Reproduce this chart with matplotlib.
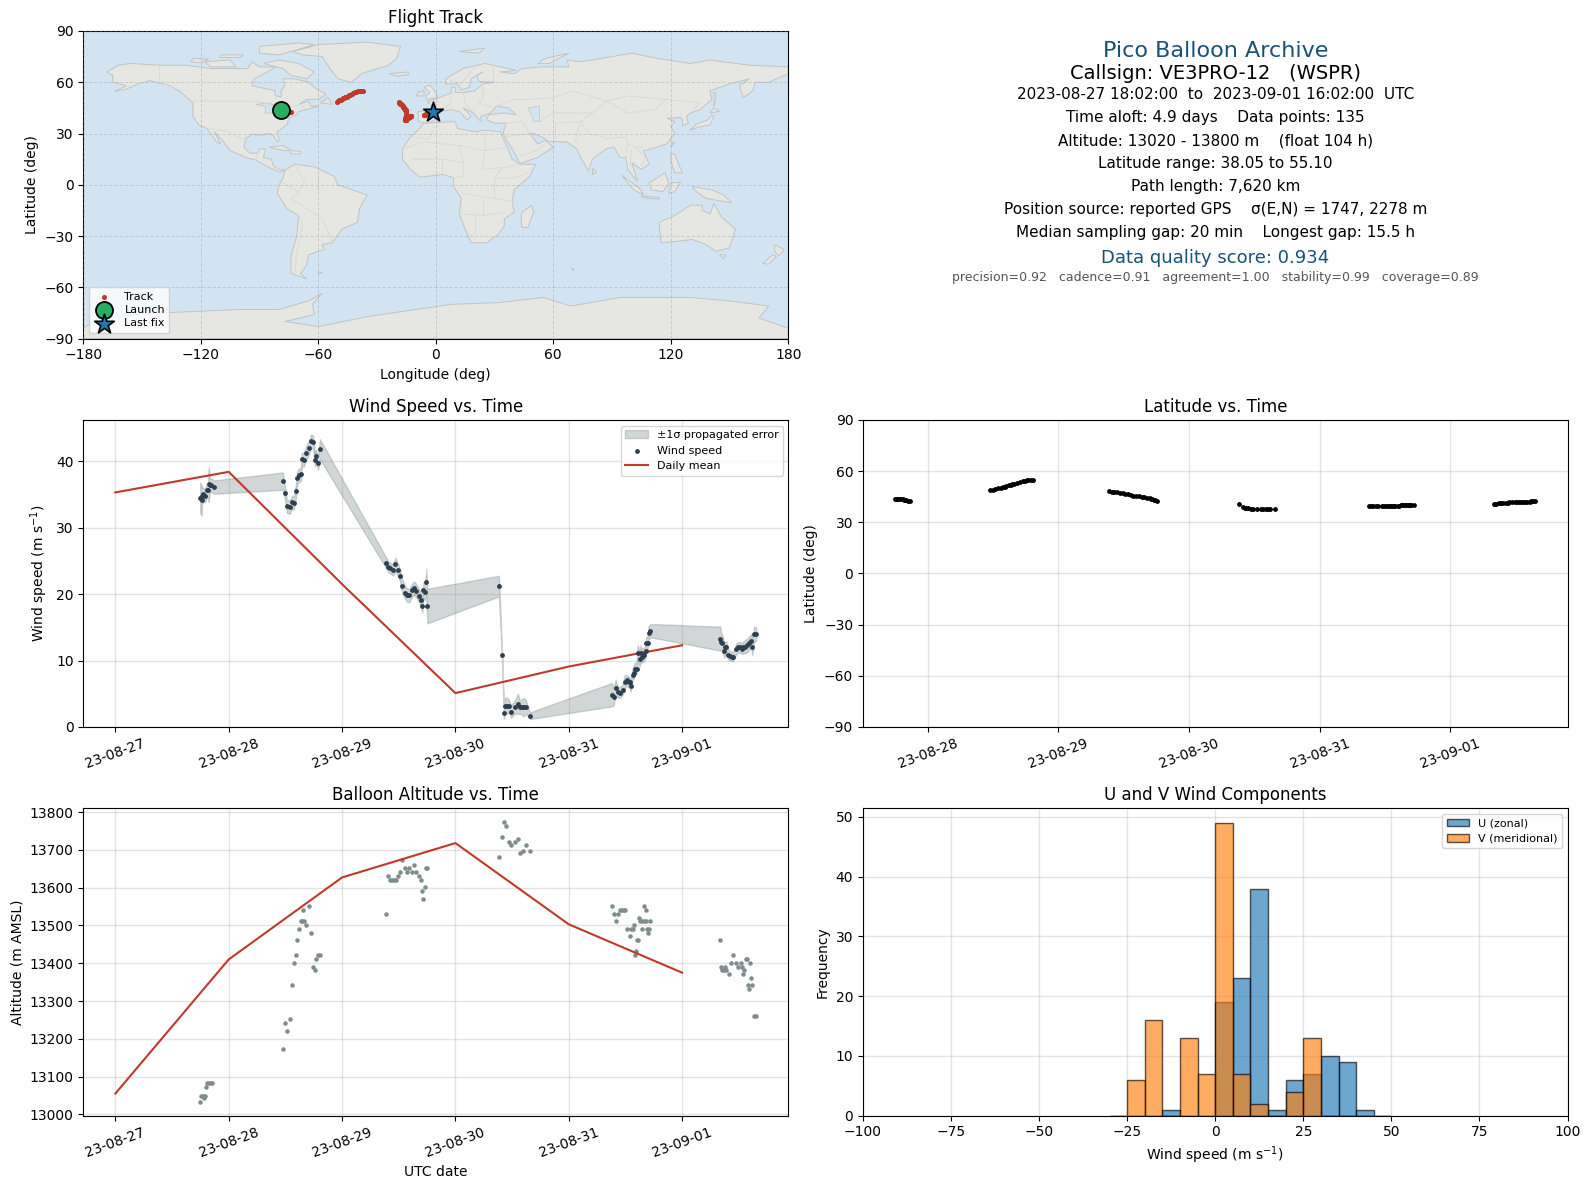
import matplotlib
matplotlib.use('Agg')
import matplotlib.pyplot as plt
import matplotlib.dates as mdates
import numpy as np
import pandas as pd

START = pd.Timestamp('2023-08-27')

# days since 08-27 00:00, one list per flight day
days_a = [.749, .761, .764, .776, .791, .808, .817, .823, .835, .847, .867]
days_b = [1.478, 1.496, 1.513, 1.540, 1.558, 1.575, 1.593, 1.602, 1.619, 1.637, 1.646, 1.664, 1.681, 1.708, 1.726,
          1.743, 1.761, 1.770, 1.788, 1.805]
days_c = [2.389, 2.407, 2.425, 2.451, 2.469, 2.496, 2.513, 2.531, 2.558, 2.575, 2.593, 2.619, 2.637, 2.655, 2.681,
          2.699, 2.708, 2.717, 2.735, 2.743, 2.752]
days_d = [3.384, 3.411, 3.428, 3.437, 3.455, 3.472, 3.490, 3.525, 3.551, 3.569, 3.587, 3.604, 3.622, 3.657]
days_e = [4.378, 4.396, 4.413, 4.431, 4.449, 4.475, 4.493, 4.510, 4.528, 4.537, 4.545, 4.563, 4.572, 4.581, 4.598,
          4.607, 4.625, 4.633, 4.642, 4.651, 4.660, 4.677, 4.683, 4.695, 4.704, 4.721]
days_f = [5.337, 5.346, 5.355, 5.372, 5.381, 5.390, 5.408, 5.425, 5.443, 5.452, 5.478, 5.496, 5.513, 5.531, 5.540,
          5.557, 5.575, 5.592, 5.610, 5.619, 5.636, 5.654]

wind_a = [34.5, 34.1, 34.8, 35.0, 34.8, 35.6, 35.6, 36.5, 36.4, 36.4, 36.1]
wind_b = [37.0, 35.2, 33.2, 33.1, 33.8, 33.7, 35.5, 37.4, 37.9, 38.0, 40.3, 40.2, 41.2, 42.0, 43.0, 42.9, 40.2, 40.8,
          39.7, 41.8]
wind_c = [24.7, 24.1, 23.9, 23.6, 24.5, 23.6, 22.7, 21.2, 20.2, 19.8, 19.8, 20.6, 20.9, 20.5, 19.7, 19.1, 18.2, 20.6,
          20.3, 21.8, 18.2]
wind_d = [21.2, 10.9, 2.1, 3.2, 3.2, 3.2, 2.3, 3.0, 3.5, 3.0, 3.0, 3.0, 3.0, 1.7]
wind_e = [4.85, 4.55, 5.9, 5.3, 5.15, 5.6, 6.8, 7.0, 6.8, 6.7, 6.1, 7.9, 8.2, 8.8, 8.8, 11.1, 10.3, 11.1, 10.6, 10.9,
          10.8, 11.4, 12.7, 12.6, 14.2, 14.5]
wind_f = [13.3, 12.8, 12.7, 11.5, 12.0, 12.1, 10.9, 10.7, 10.6, 10.6, 11.8, 12.0, 12.0, 11.8, 12.0, 12.1, 12.3, 12.6,
          13.0, 12.0, 14.0, 14.0]

sigma_a = [2.3, 2.3, 1.3, 1.0, 1.0, 1.0, 1.0, 2.6, 1.0, 1.0, 1.0]
sigma_b = [1.3, .9, 1.0, 1.0, 1.0, 1.0, 1.0, 1.0, 1.0, 1.0, 1.0, 1.0, 1.0, 1.0, 1.0, 1.0, 1.0, 1.0, 1.0, 1.5]
sigma_c = [.8, .8, .8, .8, 1.0, .9, .9, 1.0, 1.0, 1.0, 1.0, 1.0, 1.0, 1.0, 1.0, 1.0, 1.0, 1.2, 1.2, 2.0, 2.6]
sigma_d = [1.55, .3, .9, 1.2, 1.2, .9, .9, 1.0, 1.5, 1.0, 1.2, 1.4, 1.0, .5]
sigma_e = [1.75, 1.3, 1.2, .8, .8, .8, 1.0, .8, .8, .8, .8, .9, .9, .9, .8, 1.2, 1.2, 1.2, 1.0, 1.0, 1.0, 1.0, .9, .9,
           1.0, 1.0]
sigma_f = [1.8, 1.2, 1.2, 1.1, .9, .8, .8, .7, .7, .7, .8, .8, .8, .8, .9, 1.0, 1.0, 1.0, 1.0, 1.2, 1.1, 1.0]

lat_a = [43.6, 43.6, 43.7, 43.6, 43.5, 43.4, 43.3, 43.0, 42.9, 42.8, 42.8]
lat_b = [48.7, 49.2, 49.5, 49.9, 50.4, 50.7, 50.9, 51.1, 51.6, 52.1, 52.4, 52.7, 53.0, 53.6, 54.0, 54.4, 54.7, 54.8,
         55.0, 55.1]
lat_c = [48.2, 48.0, 47.8, 47.5, 47.3, 47.0, 46.7, 46.4, 46.0, 45.7, 45.5, 45.2, 45.0, 44.7, 44.4, 44.1, 43.9, 43.6,
         43.3, 43.0, 42.7]
lat_d = [40.6, 38.9, 38.4, 38.2, 38.2, 38.1, 38.1, 38.1, 38.1, 38.1, 38.1, 38.1, 38.1, 38.05]
lat_e = [39.3, 39.3, 39.3, 39.3, 39.3, 39.3, 39.3, 39.3, 39.3, 39.3, 39.4, 39.5, 39.5, 39.6, 39.7, 39.8, 39.9, 40.0,
         40.0, 40.0, 40.0, 40.1, 40.1, 40.0, 40.0, 40.0]
lat_f = [41.0, 41.0, 41.0, 41.1, 41.2, 41.2, 41.5, 41.6, 41.6, 41.7, 41.7, 41.7, 41.7, 41.7, 41.8, 41.9, 42.0, 42.1,
         42.2, 42.3, 42.4, 42.4]

lon_a = [-79.0, -78.5, -78.0, -77.5, -77.0, -76.5, -76.0, -75.5, -75.0, -74.5, -74.0]
lon_b = [-50.4, -49.8, -49.2, -48.6, -48.0, -47.4, -46.8, -46.2, -45.6, -45.0, -44.4, -43.8, -43.0, -42.2, -41.4,
         -40.6, -39.8, -39.0, -38.2, -37.3]
lon_c = [-19.0, -18.8, -18.5, -18.2, -18.0, -17.7, -17.4, -17.2, -17.0, -16.8, -16.6, -16.4, -16.2, -16.0, -15.8,
         -15.6, -15.5, -15.4, -15.3, -15.2, -15.1]
lon_d = [-15.0, -15.6, -15.8, -15.8, -15.7, -15.6, -15.5, -15.4, -15.3, -15.2, -15.2, -15.1, -15.0, -15.0]
lon_e = [-15.0, -14.9, -14.8, -14.7, -14.6, -14.5, -14.4, -14.3, -14.2, -14.1, -14.0, -13.9, -13.8, -13.7, -13.6,
         -13.5, -13.4, -13.3, -13.2, -13.1, -13.0, -12.9, -12.8, -12.7, -12.6, -12.5]
lon_f = [-6.0, -5.8, -5.6, -5.4, -5.2, -5.0, -4.8, -4.6, -4.4, -4.2, -4.0, -3.8, -3.6, -3.4, -3.2, -3.0, -2.7, -2.5,
         -2.2, -2.0, -1.7, -1.4]

alt_days_a = [.749, .758, .776, .794, .785, .803, .812, .829, .847, .856]
alt_a = [13033, 13049, 13049, 13049, 13042, 13072, 13082, 13082, 13082, 13082]
alt_days_b = [1.478, 1.496, 1.513, 1.540, 1.558, 1.575, 1.593, 1.602, 1.619, 1.637, 1.646, 1.655, 1.664, 1.681, 1.708,
              1.726, 1.743, 1.761, 1.770, 1.788, 1.805]
alt_b = [13173, 13242, 13220, 13252, 13342, 13401, 13422, 13462, 13491, 13512, 13512, 13542, 13512, 13502, 13552,
         13481, 13390, 13382, 13411, 13422, 13422]
alt_days_c = [2.389, 2.407, 2.425, 2.442, 2.460, 2.472, 2.496, 2.513, 2.531, 2.558, 2.575, 2.593, 2.619, 2.637, 2.655,
              2.681, 2.699, 2.708, 2.717, 2.735, 2.743, 2.752]
alt_c = [13531, 13632, 13621, 13621, 13621, 13621, 13632, 13642, 13672, 13653, 13642, 13653, 13642, 13661, 13642,
         13632, 13621, 13592, 13571, 13603, 13653, 13653]
alt_days_d = [3.384, 3.411, 3.428, 3.446, 3.472, 3.490, 3.525, 3.551, 3.569, 3.595, 3.622, 3.657]
alt_d = [13682, 13733, 13773, 13762, 13722, 13712, 13722, 13730, 13693, 13696, 13712, 13696]
alt_days_e = [4.378, 4.396, 4.413, 4.431, 4.449, 4.466, 4.484, 4.493, 4.510, 4.537, 4.545, 4.563, 4.572, 4.581, 4.590,
              4.598, 4.607, 4.616, 4.625, 4.642, 4.644, 4.660, 4.677, 4.668, 4.677, 4.686, 4.704, 4.695, 4.721]
alt_e = [13552, 13531, 13512, 13531, 13542, 13542, 13542, 13542, 13491, 13473, 13491, 13491, 13502, 13422, 13433,
         13462, 13462, 13520, 13512, 13491, 13512, 13512, 13512, 13552, 13542, 13491, 13491, 13481, 13512]
alt_days_f = [5.337, 5.346, 5.355, 5.372, 5.381, 5.390, 5.416, 5.434, 5.452, 5.478, 5.496, 5.522, 5.531, 5.540, 5.548,
              5.566, 5.575, 5.601, 5.610, 5.584, 5.619, 5.592, 5.636, 5.654]
alt_f = [13462, 13390, 13382, 13382, 13390, 13382, 13372, 13401, 13422, 13401, 13390, 13401, 13390, 13372, 13382,
         13411, 13411, 13401, 13361, 13342, 13342, 13332, 13260, 13260]

mean_days = [0, 1, 2, 3, 4, 5]
mean_wind = [35.3, 38.4, 21.5, 5.1, 9.1, 12.3]
mean_alt = [13055, 13410, 13627, 13718, 13503, 13375]

bin_edges = [-30, -25, -20, -15, -10, -5, 0, 5, 10, 15, 20, 25, 30, 35, 40, 45, 50]
u_counts = [0, 0, 0, 1, 0, 0, 19, 23, 38, 1, 6, 7, 10, 9, 1, 0]
v_counts = [0, 6, 16, 0, 13, 7, 49, 7, 2, 0, 4, 13, 0, 0, 0, 0]

lon_ticks = [-180, -120, -60, 0, 60, 120, 180]
lat_ticks = [-90, -60, -30, 0, 30, 60, 90]

# rough outlines for the base map, (lon, lat)
north_america = [(-168,66),(-162,70),(-156,71),(-141,70),(-128,70),(-115,68),(-108,68),(-96,68),(-94,72),(-90,69),
    (-82,69),(-86,66),(-93,62),(-94,58),(-88,56.5),(-82,55),(-82,52),(-79,51.5),(-79,55),(-77,58),(-78,62),(-72,62),
    (-65,60),(-62,57),(-56,53),(-60,50),(-66,50),(-70,47),(-65,49),(-64,46),(-60,46),(-66,44),(-70,43),(-71,41),
    (-75,39),(-76,35),(-81,31),(-80,26),(-81,25),(-83,29),(-85,30),(-90,29),(-94,29.5),(-97,27),(-98,22),(-95,18.5),
    (-91,18.5),(-90,21),(-87,21),(-88,16),(-84,15),(-83,11),(-80,9),(-77,8.5),(-80,7.5),(-85,10),(-92,14.5),(-97,16),
    (-105,20),(-109,26),(-113,31),(-110,24),(-112,25),(-115,30),(-117,33),(-121,35),(-124,40),(-124,48),(-130,54),
    (-136,58),(-146,61),(-152,59),(-158,56),(-164,54.5),(-158,58),(-165,60),(-165,64)]
south_america = [(-77,8.5),(-72,12),(-62,10.5),(-52,5),(-50,0),(-44,-2.5),(-35,-6),(-39,-14),(-40,-22),(-48,-26),
    (-53,-34),(-58,-35),(-57,-38),(-65,-41),(-66,-47),(-69,-52),(-66,-55),(-74,-52),(-74,-42),(-71,-30),(-70,-18),
    (-76,-14),(-81,-5),(-80,0),(-78,4)]
africa = [(-17,15),(-17,21),(-13,28),(-9,32),(-6,36),(10,37),(11,33),(20,31),(25,32),(33,31),(34,28),(37,21),(39,15),
    (43,12),(51,12),(48,5),(40,-3),(39,-10),(40,-16),(35,-20),(35,-24),(32,-29),(26,-34),(18,-34),(15,-26),(12,-17),
    (13,-8),(9,-1),(9,4),(4,6),(-4,5),(-8,4.5),(-13,9)]
eurasia = [(-9,37),(-9,43),(-2,43.5),(-1,46),(-4.5,48.5),(2,51),(8,54),(8,57),(10,57),(10,54),(14,54),(20,55),(24,59),
    (30,60),(22,60.5),(21,64),(24,66),(18,62),(17,57),(13,55.5),(11,59),(5,59),(5,62),(14,68),(25,71),(41,67),(33,66),
    (40,65),(44,68),(54,69),(68,69),(67,73),(73,72),(80,73),(100,77),(113,74),(130,71),(140,73),(160,70),(180,69),
    (180,65),(170,60),(163,60),(162,55),(157,51),(155,58),(160,62),(150,59),(140,55),(141,50),(135,44),(130,42),
    (128,40),(129,36),(126,34.5),(126,38),(125,39.5),(121,39),(118,39),(122,37),(120,34),(122,30),(118,24),(110,21),
    (106,20),(109,12),(105,9),(100,13),(103,2),(100,6),(98,9),(97,16),(94,16),(91,22),(87,21),(80,15),(78,8),(73,18),
    (72,21),(67,25),(57,25.5),(56,27),(50,30),(48,30),(52,24),(56,26),(60,22),(52,16),(43,12.5),(39,21),(35,28),
    (34.5,31),(36,36),(30,36),(26,38),(27,41),(35,42),(41,41),(37,45),(31,46),(28,42),(23,40),(23,37),(19,42),(14,45),
    (18,40),(16,38),(12,43),(8,44),(3,43),(0,39),(-2,37),(-5,36)]
australia = [(114,-22),(122,-18),(130,-12),(136,-12),(136,-15),(140,-17),(142,-11),(146,-19),(153,-26),(150,-37),
    (143,-39),(138,-35),(131,-32),(124,-33),(115,-34)]
antarctica = [(-180,-84),(-172,-78),(-140,-75),(-100,-73),(-80,-73),(-65,-68),(-58,-63.5),(-63,-70),(-62,-76),(-77,-80),
    (-60,-83),(-34,-77),(8,-70),(32,-69),(55,-66),(69,-71),(94,-66),(130,-66),(150,-68),(170,-71),(165,-78),(180,-84),
    (180,-90),(-180,-90)]
islands = [
    [(-73,78),(-60,82),(-35,83.5),(-18,81),(-20,74),(-24,70),(-38,65),(-43,60),(-50,62),(-54,68),(-58,75),(-68,76)],
    [(-80,73),(-70,71),(-62,66),(-66,62),(-74,64),(-78,68),(-88,71)],
    [(-90,77),(-80,76),(-62,82),(-70,83),(-90,81)],
    [(-118,72),(-105,73),(-102,69),(-115,69)],
    [(-124,74),(-116,73.5),(-120,71.5),(-125,72)],
    [(-110,76),(-98,76),(-100,74.5),(-110,74.5)],
    [(-59,48),(-53,47),(-55,51)],
    [(-24,65),(-14,66),(-14,64.5),(-20,63.5)],
    [(-5,50),(1,51),(0,54),(-3,58.5),(-6,57),(-3,54),(-5,52)],
    [(-10,52),(-6,52),(-6,55),(-9,54)],
    [(-85,22),(-78,23),(-74,20),(-78,20)],
    [(-74,20),(-69,19.5),(-69,18),(-74,18)],
    [(12,78),(25,80),(22,77)],
    [(52,71),(56,74),(68,77),(58,71)],
    [(44,-16),(49,-12),(50,-16),(47,-25),(44,-25),(43.5,-20)],
    [(130,32),(135,34),(140,35),(142,40),(141,41),(139,38),(133,35.5)],
    [(140,42),(145,43),(142,45)],
    [(142,46),(143,50),(143,54),(142,54)],
    [(120,22),(122,25),(121,25)],
    [(80,6),(82,7.5),(80,9.5)],
    [(120,18),(122,18),(124,12),(126,7),(122,7),(120,14)],
    [(95,5.5),(104,-2),(106,-6),(101,-3)],
    [(105,-6.5),(114,-7.5),(114,-8.5),(106,-7.5)],
    [(109,1),(117,7),(119,1),(116,-4),(110,-3)],
    [(119,-5),(120,1),(125,1.5),(122,-4)],
    [(131,-1),(141,-3),(147,-6),(151,-10.5),(143,-9),(138,-8),(133,-4)],
    [(145,-41),(148,-41),(147,-43.5)],
    [(173,-35),(178,-38),(175,-41.5),(173,-39)],
    [(172,-41),(174,-42),(170,-46.5),(167,-46)],
    [(-60,-51),(-58,-51.5),(-60,-52.2)],
    [(69,-49),(70,-49),(70,-50)],
]
seas = [[(47,45),(53,46),(53,37),(50,37),(49,41)],
    [(-92,47),(-85,48),(-80,45),(-83,42),(-87,42),(-87,46)]]
borders = [
    [(-141,70),(-141,60),(-130,55)], [(-124,49),(-95,49),(-88,48),(-83,46),(-79,43),(-75,45),(-69,47),(-67,45)],
    [(-117,33),(-107,31.5),(-97,26)], [(-92,14.5),(-91,18)], [(-72,12),(-67,1),(-70,-4),(-74,-8),(-70,-11),(-58,-20),
    (-55,-27),(-53,-34)], [(-70,-18),(-68,-23),(-71,-40),(-72,-52)], [(-60,5),(-60,-5)], [(-78,1),(-70,-4)],
    [(-13,28),(-4,27),(-1,32)], [(-17,21),(-6,25),(12,23),(25,20),(37,22)], [(25,32),(25,20),(24,9),(34,10),(43,12)],
    [(12,23),(14,13),(14,5),(9,4)], [(-12,15),(3,15),(14,13)], [(3,15),(3,7)], [(13,-5),(30,-8),(40,-10)],
    [(12,-17),(25,-18),(35,-16)], [(20,-18),(20,-29),(17,-29)], [(30,-8),(30,4),(34,10)], [(30,4),(41,4),(48,8)],
    [(24,-8),(24,-18)], [(2,43),(8,48),(7,54)], [(14,54),(15,47),(20,42)], [(24,59),(24,50),(22,48),(29,45)],
    [(31,46),(40,50),(48,50),(60,51),(70,55),(87,49),(98,52),(117,50),(135,48),(131,43)],
    [(87,49),(80,42),(74,37),(78,30),(88,27),(97,28),(98,24),(102,22),(106,22)],
    [(61,36),(74,37)], [(48,30),(44,37),(36,36)], [(61,36),(61,25)], [(74,37),(71,25)], [(98,24),(97,16)],
    [(53,37),(60,42),(70,42),(80,42)], [(87,49),(98,42),(112,44),(117,50)], [(35,28),(48,30)], [(43,17),(52,20),(56,24)],
    [(102,22),(107,16),(105,11)], [(100,20),(99,11)], [(29,71),(29,60)], [(5,62),(13,59),(20,69)],
]

track_lon = lon_a + lon_b + lon_c + lon_d + lon_e + lon_f
track_lat = lat_a + lat_b + lat_c + lat_d + lat_e + lat_f
wind_days = np.array(days_a + days_b + days_c + days_d + days_e + days_f)
wind_speed = np.array(wind_a + wind_b + wind_c + wind_d + wind_e + wind_f)
wind_sigma = np.array(sigma_a + sigma_b + sigma_c + sigma_d + sigma_e + sigma_f)
alt_days = np.array(alt_days_a + alt_days_b + alt_days_c + alt_days_d + alt_days_e + alt_days_f)
altitude = np.array(alt_a + alt_b + alt_c + alt_d + alt_e + alt_f)


def to_time(days):
    return START + pd.to_timedelta(np.asarray(days, dtype=float), unit='D')


def panel(left, top, right, bottom):
    # pixel box to figure fractions
    return fig.add_axes([left / W, 1 - bottom / H, (right - left) / W, (bottom - top) / H])


def date_axis(ax):
    ax.xaxis.set_major_locator(mdates.DayLocator())
    ax.xaxis.set_major_formatter(mdates.DateFormatter('%y-%m-%d'))
    ax.tick_params(axis='x', labelrotation=20)
    ax.grid(True, color='#b0b0b0', alpha=0.35, lw=1)
    ax.set_axisbelow(True)


W, H = 1590, 1189
fig = plt.figure(figsize=(W / 100, H / 100), dpi=100)
RED = '#c0392b'
NAVY = '#1a5276'
GREY = '#7f8c8d'
DARK = '#2c3e50'
COL_L = (83.3, 788.3)
COL_R = (863, 1567.5)

# map
ax = panel(COL_L[0], 31, COL_L[1], 338.5)
ax.set_facecolor('#d2e4f1')
for poly in [north_america, south_america, africa, eurasia, australia, antarctica] + islands:
    xs, ys = zip(*poly)
    ax.fill(xs, ys, facecolor='#e6e7e3', edgecolor='#bfc3c4', lw=0.7, zorder=1)
for poly in seas:
    xs, ys = zip(*poly)
    ax.fill(xs, ys, facecolor='#d2e4f1', edgecolor='#bfc3c4', lw=0.5, zorder=1.1)
for line in borders:
    xs, ys = zip(*line)
    ax.plot(xs, ys, color='#d6d8d6', lw=0.6, zorder=1.2)
ax.grid(True, color='#8a8a8a', alpha=0.3, lw=0.7, ls='--', zorder=1.5)
ax.set_axisbelow(False)
ax.scatter(track_lon, track_lat, s=7, color=RED, label='Track', zorder=3)
ax.scatter(track_lon[0], track_lat[0], s=150, color='#27ae60', edgecolor='k', lw=1.3, label='Launch', zorder=4)
ax.scatter(track_lon[-1], track_lat[-1], s=220, marker='*', color='#1f77b4', edgecolor='k', lw=1.2, label='Last fix',
           zorder=5)
ax.set_xlim(-180, 180)
ax.set_ylim(-90, 90)
ax.set_xticks(lon_ticks)
ax.set_yticks(lat_ticks)
ax.set_xlabel('Longitude (deg)')
ax.set_ylabel('Latitude (deg)')
ax.set_title('Flight Track')
ax.legend(loc='lower left', fontsize=8, labelspacing=0.3)

# summary text
ax = panel(COL_R[0], 31, COL_R[1], 338.5)
ax.axis('off')
ax.text(.5, .936, 'Pico Balloon Archive', fontsize=16, color=NAVY, ha='center', va='center')
ax.text(.5, .863, 'Callsign: VE3PRO-12   (WSPR)', fontsize=14, ha='center', va='center')
ax.text(.5, .794, '2023-08-27 18:02:00  to  2023-09-01 16:02:00  UTC', fontsize=11, ha='center', va='center')
ax.text(.5, .718, 'Time aloft: 4.9 days    Data points: 135', fontsize=11, ha='center', va='center')
ax.text(.5, .642, 'Altitude: 13020 - 13800 m    (float 104 h)', fontsize=11, ha='center', va='center')
ax.text(.5, .570, 'Latitude range: 38.05 to 55.10', fontsize=11, ha='center', va='center')
ax.text(.5, .494, 'Path length: 7,620 km', fontsize=11, ha='center', va='center')
ax.text(.5, .421, 'Position source: reported GPS    σ(E,N) = 1747, 2278 m', fontsize=11, ha='center', va='center')
ax.text(.5, .345, 'Median sampling gap: 20 min    Longest gap: 15.5 h', fontsize=11, ha='center', va='center')
ax.text(.5, .263, 'Data quality score: 0.934', fontsize=13, color=NAVY, ha='center', va='center')
ax.text(.5, .197, 'precision=0.92   cadence=0.91   agreement=1.00   stability=0.99   coverage=0.89', fontsize=9,
        color='#555555', ha='center', va='center')

# wind speed
ax = panel(COL_L[0], 420, COL_L[1], 727)
ax.fill_between(to_time(wind_days), wind_speed - wind_sigma, wind_speed + wind_sigma, color=GREY, alpha=0.35,
                label='±1σ propagated error')
ax.scatter(to_time(wind_days), wind_speed, s=6, color=DARK, label='Wind speed', zorder=3)
ax.plot(to_time(mean_days), mean_wind, color=RED, lw=1.5, label='Daily mean')
ax.set_ylim(0, 46.2)
ax.set_ylabel('Wind speed (m s$^{-1}$)')
ax.set_title('Wind Speed vs. Time')
ax.legend(loc='upper right', fontsize=8)
date_axis(ax)

# latitude
ax = panel(COL_R[0], 420, COL_R[1], 727)
ax.scatter(to_time(wind_days), track_lat, s=6, color='k')
ax.set_ylim(-90, 90)
ax.set_yticks(lat_ticks)
ax.set_ylabel('Latitude (deg)')
ax.set_title('Latitude vs. Time')
date_axis(ax)

# altitude
ax = panel(COL_L[0], 808.3, COL_L[1], 1115.5)
ax.scatter(to_time(alt_days), altitude, s=5, color=GREY)
ax.plot(to_time(mean_days), mean_alt, color=RED, lw=1.5)
ax.set_ylim(12997, 13810)
ax.set_xlabel('UTC date')
ax.set_ylabel('Altitude (m AMSL)')
ax.set_title('Balloon Altitude vs. Time')
date_axis(ax)

# U and V histogram
ax = panel(COL_R[0], 808.3, COL_R[1], 1115.5)
centres = (np.array(bin_edges[:-1]) + np.array(bin_edges[1:])) / 2
ax.bar(centres, u_counts, width=5, color='#1f77b4', alpha=0.65, edgecolor='k', label='U (zonal)')
ax.bar(centres, v_counts, width=5, color='#ff7f0e', alpha=0.65, edgecolor='k', label='V (meridional)')
ax.set_xlim(-100, 100)
ax.set_ylim(0, 51.45)
ax.set_xlabel('Wind speed (m s$^{-1}$)')
ax.set_ylabel('Frequency')
ax.set_title('U and V Wind Components')
ax.legend(loc='upper right', fontsize=8)
ax.grid(True, color='#b0b0b0', alpha=0.35, lw=1)
ax.set_axisbelow(True)

fig.savefig('out.png', dpi=100)
